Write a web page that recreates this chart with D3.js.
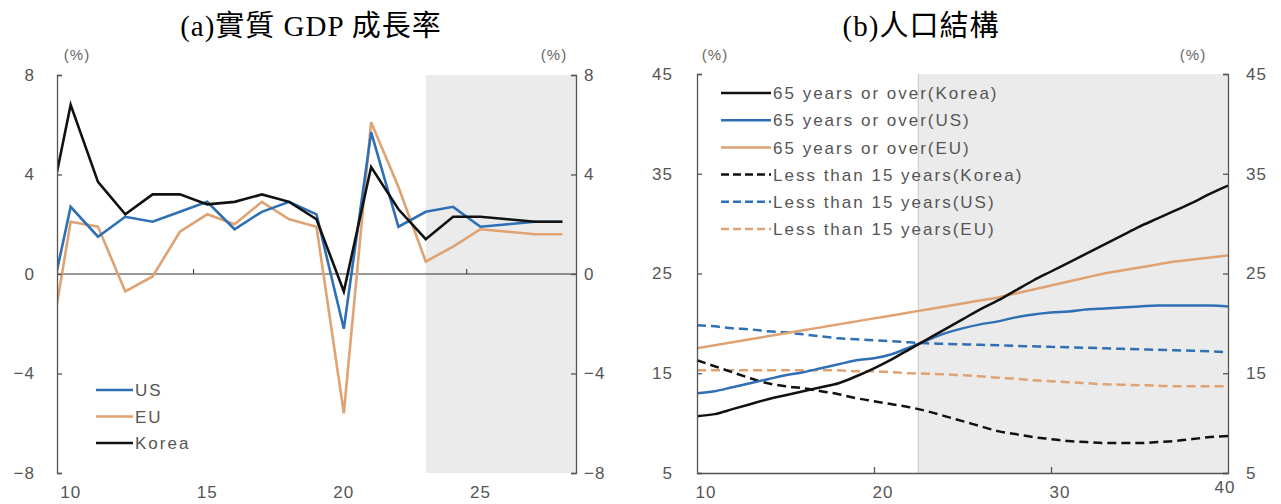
<!DOCTYPE html>
<html>
<head>
<meta charset="utf-8">
<script src="https://cdn.jsdelivr.net/npm/d3@7/dist/d3.min.js"></script>
<style>
  html, body { margin: 0; padding: 0; background: #fff; }
  svg { display: block; }
  .tick-label { font-family: "Liberation Sans", Arial, sans-serif; font-size: 17px; fill: #555; letter-spacing: 1px; }
  .unit { font-family: "Liberation Sans", Arial, sans-serif; font-size: 15px; fill: #666; letter-spacing: 1px; }
  .legend-text { font-family: "Liberation Sans", Arial, sans-serif; font-size: 17px; fill: #555; letter-spacing: 2px; }
  .title { font-family: "Liberation Serif", "Noto Sans CJK TC", serif; font-size: 29px; fill: #000; letter-spacing: 1px; }
</style>
</head>
<body>
<svg id="chart" width="1281" height="504"></svg>
<script>
// ---------- (a) Real GDP growth ----------
const gdpYears = [2009, 2010, 2011, 2012, 2013, 2014, 2015, 2016, 2017, 2018, 2019,
                  2020, 2021, 2022, 2023, 2024, 2025, 2026, 2027, 2028];
const gdpUS    = [-2.4, 2.7, 1.5, 2.3, 2.1, 2.5, 2.9, 1.8, 2.5, 2.9, 2.4,
                  -2.2, 5.7, 1.9, 2.5, 2.7, 1.9, 2.0, 2.1, 2.1];
const gdpEU    = [-4.5, 2.1, 1.9, -0.7, -0.1, 1.7, 2.4, 2.0, 2.9, 2.2, 1.9,
                  -5.6, 6.1, 3.5, 0.5, 1.1, 1.8, 1.7, 1.6, 1.6];
const gdpKorea = [1.4, 6.8, 3.7, 2.4, 3.2, 3.2, 2.8, 2.9, 3.2, 2.9, 2.2,
                  -0.7, 4.3, 2.6, 1.4, 2.3, 2.3, 2.2, 2.1, 2.1];
const gdpYTicks = [8, 4, 0, -4, -8];
const gdpXLabels = [2010, 2015, 2020, 2025];
const gdpXTicks = [2014.5, 2019.5, 2024.5];
const gdpForecastStart = 2023;
const gdpSeriesNames = ["US", "EU", "Korea"];

// ---------- (b) Population structure ----------
const popYears = d3.range(2010, 2041);
const old65Korea = [10.7, 10.9, 11.4, 11.9, 12.4, 12.8, 13.2, 13.6, 14.0, 14.7, 15.5,
                    16.4, 17.4, 18.4, 19.4, 20.4, 21.4, 22.3, 23.3, 24.3, 25.2,
                    26.1, 27.0, 27.9, 28.8, 29.7, 30.5, 31.3, 32.1, 33.0, 33.8];
const old65US    = [13.0, 13.2, 13.6, 14.0, 14.4, 14.8, 15.1, 15.5, 15.9, 16.3, 16.5,
                    16.9, 17.6, 18.3, 19.0, 19.5, 19.9, 20.2, 20.6, 20.9, 21.1,
                    21.2, 21.4, 21.5, 21.6, 21.7, 21.8, 21.8, 21.8, 21.8, 21.7];
const old65EU    = [17.5, 17.8, 18.1, 18.4, 18.7, 19.0, 19.3, 19.6, 19.9, 20.2, 20.5,
                    20.8, 21.1, 21.4, 21.7, 22.0, 22.3, 22.6, 23.0, 23.4, 23.8,
                    24.2, 24.6, 25.0, 25.3, 25.6, 25.9, 26.2, 26.4, 26.6, 26.8];
const under15Korea = [16.3, 15.7, 15.1, 14.5, 14.0, 13.7, 13.5, 13.2, 12.9, 12.5, 12.2,
                      11.9, 11.6, 11.2, 10.7, 10.2, 9.7, 9.2, 8.9, 8.6, 8.4,
                      8.2, 8.1, 8.0, 8.0, 8.0, 8.1, 8.2, 8.4, 8.6, 8.7];
const under15US    = [19.8, 19.7, 19.5, 19.4, 19.2, 19.1, 18.9, 18.7, 18.5, 18.4, 18.3,
                      18.2, 18.1, 18.0, 17.95, 17.9, 17.85, 17.8, 17.75, 17.7, 17.65,
                      17.6, 17.55, 17.5, 17.45, 17.4, 17.35, 17.3, 17.25, 17.2, 17.1];
const under15EU    = [15.3, 15.3, 15.3, 15.3, 15.3, 15.3, 15.3, 15.3, 15.3, 15.2, 15.2,
                      15.1, 15.0, 14.95, 14.9, 14.8, 14.7, 14.55, 14.45, 14.3, 14.2,
                      14.1, 14.0, 13.9, 13.85, 13.8, 13.75, 13.7, 13.7, 13.7, 13.7];
const popYTicks = [45, 35, 25, 15, 5];
const popXLabels = [2010, 2020, 2030, 2040];
const popXTicks = [2020, 2030];
const popForecastStart = 2022.5;
const popSeriesNames = ["65 years or over(Korea)", "65 years or over(US)", "65 years or over(EU)",
                        "Less than 15 years(Korea)", "Less than 15 years(US)", "Less than 15 years(EU)"];

const C_US = "#2f6fb3", C_EU = "#dfa273", C_KR = "#111111";
const fmt = v => (v < 0 ? "\u2212" : "") + Math.abs(v);
const svg = d3.select("#chart");

// Titles
svg.append("text").attr("class", "title").attr("x", 311).attr("y", 36)
  .attr("text-anchor", "middle").text("(a)實質 GDP 成長率");
svg.append("text").attr("class", "title").attr("x", 921).attr("y", 36)
  .attr("text-anchor", "middle").text("(b)人口結構");

// ===== Panel (a) =====
{
  const x = d3.scaleLinear().domain([2009.5, 2028.5]).range([57, 576]);
  const y = d3.scaleLinear().domain([-8, 8]).range([473, 75]);
  const g = svg.append("g");

  g.append("defs").append("clipPath").attr("id", "clipA")
    .append("rect").attr("x", x(2009.5)).attr("y", 0)
    .attr("width", x(2028.5) - x(2009.5)).attr("height", 504);

  g.append("rect").attr("x", x(gdpForecastStart)).attr("y", y(8))
    .attr("width", x(2028.5) - x(gdpForecastStart)).attr("height", y(-8) - y(8))
    .attr("fill", "#ebebeb");

  // zero line with category ticks
  g.append("line").attr("x1", x(2009.5)).attr("x2", x(2028.5))
    .attr("y1", y(0)).attr("y2", y(0)).attr("stroke", "#333").attr("stroke-width", 1.2);
  g.selectAll(".xt").data(gdpXTicks).join("line")
    .attr("x1", d => x(d)).attr("x2", d => x(d))
    .attr("y1", y(0)).attr("y2", y(0) - 5).attr("stroke", "#333");

  const line = d3.line().x((d, i) => x(gdpYears[i])).y(d => y(d));
  const series = [[gdpEU, C_EU], [gdpUS, C_US], [gdpKorea, C_KR]];
  g.append("g").attr("clip-path", "url(#clipA)")
    .selectAll("path").data(series).join("path")
    .attr("d", d => line(d[0])).attr("fill", "none")
    .attr("stroke", d => d[1]).attr("stroke-width", 2.6)
    .attr("stroke-linejoin", "miter");

  // y axes on both sides
  const left = d3.axisRight(y).tickValues(gdpYTicks).tickSize(5).tickFormat("");
  const right = d3.axisLeft(y).tickValues(gdpYTicks).tickSize(5).tickFormat("");
  const ga = g.append("g").attr("transform", `translate(${x(2009.5)},0)`).call(left);
  const gb = g.append("g").attr("transform", `translate(${x(2028.5)},0)`).call(right);
  [ga, gb].forEach(s => { s.selectAll("path,line").attr("stroke", "#555").attr("stroke-width", 1.3); });

  g.selectAll(".yl").data(gdpYTicks).join("text").attr("class", "tick-label")
    .attr("x", 35).attr("y", d => y(d)).attr("dy", "0.35em").attr("text-anchor", "end").text(fmt);
  g.selectAll(".yr").data(gdpYTicks).join("text").attr("class", "tick-label")
    .attr("x", 584).attr("y", d => y(d)).attr("dy", "0.35em").attr("text-anchor", "start").text(fmt);
  g.selectAll(".xl").data(gdpXLabels).join("text").attr("class", "tick-label")
    .attr("x", d => x(d)).attr("y", 498).attr("text-anchor", "middle").text(d => String(d).slice(2));

  g.append("text").attr("class", "unit").attr("x", 77).attr("y", 60).attr("text-anchor", "middle").text("(%)");
  g.append("text").attr("class", "unit").attr("x", 554).attr("y", 60).attr("text-anchor", "middle").text("(%)");

  // legend
  const leg = g.append("g").selectAll("g").data([[gdpSeriesNames[0], C_US], [gdpSeriesNames[1], C_EU], [gdpSeriesNames[2], C_KR]])
    .join("g").attr("transform", (d, i) => `translate(96,${390 + i * 26.5})`);
  leg.append("line").attr("x1", 0).attr("x2", 37).attr("stroke", d => d[1]).attr("stroke-width", 2.6);
  leg.append("text").attr("class", "legend-text").attr("x", 39).attr("dy", "0.36em").text(d => d[0]);
}

// ===== Panel (b) =====
{
  const x = d3.scaleLinear().domain([2010, 2040]).range([697, 1228]);
  const y = d3.scaleLinear().domain([5, 45]).range([473, 74]);
  const g = svg.append("g");

  g.append("rect").attr("x", x(popForecastStart)).attr("y", y(45))
    .attr("width", x(2040) - x(popForecastStart)).attr("height", y(5) - y(45))
    .attr("fill", "#ebebeb");
  g.append("line").attr("x1", x(popForecastStart)).attr("x2", x(popForecastStart))
    .attr("y1", y(45)).attr("y2", y(5)).attr("stroke", "#c4c4c4").attr("stroke-width", 1);

  const line = d3.line().curve(d3.curveMonotoneX).x((d, i) => x(popYears[i])).y(d => y(d));
  const series = [
    [under15EU, C_EU, true], [under15US, C_US, true], [under15Korea, C_KR, true],
    [old65EU, C_EU, false], [old65US, C_US, false], [old65Korea, C_KR, false]
  ];
  g.append("g").selectAll("path").data(series).join("path")
    .attr("d", d => line(d[0])).attr("fill", "none")
    .attr("stroke", d => d[1]).attr("stroke-width", 2.5)
    .attr("stroke-dasharray", d => d[2] ? "9,5" : null);

  // axes
  const bottom = d3.axisTop(x).tickValues(popXTicks).tickSize(6).tickFormat("").tickSizeOuter(0);
  const gx = g.append("g").attr("transform", `translate(0,${y(5)})`).call(bottom);
  const left = d3.axisRight(y).tickValues(popYTicks).tickSize(5).tickFormat("");
  const right = d3.axisLeft(y).tickValues(popYTicks).tickSize(5).tickFormat("");
  const ga = g.append("g").attr("transform", `translate(${x(2010)},0)`).call(left);
  const gb = g.append("g").attr("transform", `translate(${x(2040)},0)`).call(right);
  [gx, ga, gb].forEach(s => { s.selectAll("path,line").attr("stroke", "#555").attr("stroke-width", 1.3); });

  g.selectAll(".yl").data(popYTicks).join("text").attr("class", "tick-label")
    .attr("x", 673).attr("y", d => y(d)).attr("dy", "0.35em").attr("text-anchor", "end").text(d => d);
  g.selectAll(".yr").data(popYTicks).join("text").attr("class", "tick-label")
    .attr("x", 1246).attr("y", d => y(d)).attr("dy", "0.35em").attr("text-anchor", "start").text(d => d);
  const lastX = popXLabels[popXLabels.length - 1];
  g.selectAll(".xl").data(popXLabels).join("text").attr("class", "tick-label")
    .attr("x", d => x(d) + (d === lastX ? -3 : 9))
    .attr("y", d => d === lastX ? 493 : 498)
    .attr("text-anchor", "middle").text(d => String(d).slice(2));

  g.append("text").attr("class", "unit").attr("x", 715).attr("y", 60).attr("text-anchor", "middle").text("(%)");
  g.append("text").attr("class", "unit").attr("x", 1193).attr("y", 60).attr("text-anchor", "middle").text("(%)");

  // legend
  const legData = popSeriesNames.map((n, i) => [n, [C_KR, C_US, C_EU][i % 3], i >= 3]);
  const leg = g.append("g").selectAll("g").data(legData)
    .join("g").attr("transform", (d, i) => `translate(721,${93 + i * 27.2})`);
  leg.append("line").attr("x1", 0).attr("x2", 50).attr("stroke", d => d[1]).attr("stroke-width", 2.5)
    .attr("stroke-dasharray", d => d[2] ? "8,4" : null);
  leg.append("text").attr("class", "legend-text").attr("x", 52).attr("dy", "0.36em").text(d => d[0]);
}
</script>
</body>
</html>
